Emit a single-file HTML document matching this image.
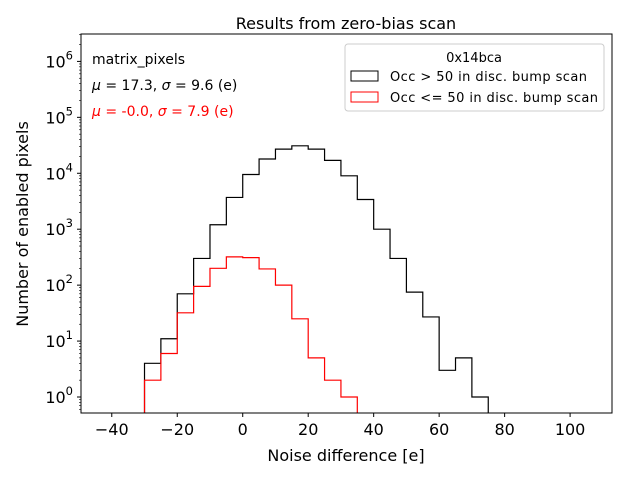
<!DOCTYPE html>
<html><head><meta charset="utf-8"><style>
body{margin:0;background:#fff}
svg{font-family:"DejaVu Sans","Liberation Sans",sans-serif}
</style></head><body>
<svg id="c" width="640" height="480" viewBox="0 0 640 480">
<rect width="640" height="480" fill="#fff"/>
<text x="346" y="29" font-size="16" text-anchor="middle">Results from zero-bias scan</text>
<g id="plot"></g>
<text x="346" y="461" font-size="16" text-anchor="middle">Noise difference [e]</text>
<text transform="translate(28,224) rotate(-90)" font-size="16" text-anchor="middle">Number of enabled pixels</text>
<text x="92" y="64" font-size="14">matrix_pixels</text>
<text x="92" y="90" font-size="14"><tspan font-style="italic">μ</tspan> = 17.3, <tspan font-style="italic">σ</tspan> = 9.6 (e)</text>
<text x="92" y="116" font-size="14" fill="#ff0000"><tspan font-style="italic">μ</tspan> = -0.0, <tspan font-style="italic">σ</tspan> = 7.9 (e)</text>
<g>
<rect x="345" y="44" width="259" height="67" rx="3" fill="#fff" fill-opacity="0.8" stroke="#ccc"/>
<text x="474" y="62" font-size="13" text-anchor="middle">0x14bca</text>
<rect x="351" y="71" width="27" height="10" fill="none" stroke="#000"/>
<text x="390" y="81" font-size="13" textLength="197">Occ &gt; 50 in disc. bump scan</text>
<rect x="351" y="92" width="27" height="10" fill="none" stroke="#ff0000"/>
<text x="390" y="102" font-size="13" textLength="208">Occ &lt;= 50 in disc. bump scan</text>
</g>
</svg>
<script>
const binStart=-30, binWidth=5;
const blackCounts=[4,11,70,300,1200,3700,9500,18000,27000,31000,27000,17000,9000,3400,1000,300,75,27,3,5,1];
const redCounts=[2,6,32,95,200,320,310,195,100,25,5,2,1];
const xTicks=[-40,-20,0,20,40,60,80,100];
const yTicks=[0,1,2,3,4,5,6];
const L=81,R=612,T=34,B=413;
const xmin=-49.4,xmax=112.8,lmin=-0.286,lmax=6.49;
const X=v=>L+(v-xmin)/(xmax-xmin)*(R-L);
const Y=v=>B-(Math.log10(v)-lmin)/(lmax-lmin)*(B-T);
const NS="http://www.w3.org/2000/svg";
const g=document.getElementById('plot');
function mk(t,a){const e=document.createElementNS(NS,t);for(const k in a)e.setAttribute(k,a[k]);g.appendChild(e);return e;}
function step(counts,color,name){
 let d="M"+X(binStart)+","+B;
 counts.forEach((c,i)=>{const x0=X(binStart+i*binWidth),x1=X(binStart+(i+1)*binWidth),y=Y(c);d+=" L"+x0+","+y+" L"+x1+","+y;});
 d+=" L"+X(binStart+counts.length*binWidth)+","+B;
 const p=mk('path',{d:d,fill:'none',stroke:color,'stroke-width':1.2});
 
 
}
step(blackCounts,'#000','histogram-black');
step(redCounts,'#ff0000','histogram-red');
xTicks.forEach(v=>{const x=X(v);mk('line',{x1:x,x2:x,y1:B,y2:B+4,stroke:'#000'});
 const t=mk('text',{x:x,y:B+22,'font-size':16,'text-anchor':'middle'});t.textContent=(v<0?'\u2212'+(-v):v);
 
 });
yTicks.forEach(p=>{const y=Y(Math.pow(10,p));mk('line',{x1:L-4,x2:L,y1:y,y2:y,stroke:'#000'});
 const t=mk('text',{x:L-8,y:y+6,'font-size':16,'text-anchor':'end'});t.innerHTML='10<tspan dy="-8" font-size="11.5">'+p+'</tspan>';
 
 
 for(let m=2;m<10;m++){const v=Math.pow(10,p)*m;if(Math.log10(v)<lmax){const ym=Y(v);mk('line',{x1:L-2,x2:L,y1:ym,y2:ym,stroke:'#000','stroke-width':0.6});}}
});
[0.6,0.7,0.8,0.9].forEach(v=>{const ym=Y(v);mk('line',{x1:L-2,x2:L,y1:ym,y2:ym,stroke:'#000','stroke-width':0.6});});
const fr=mk('rect',{x:L,y:T,width:R-L,height:B-T,fill:'none',stroke:'#000','stroke-width':1});


</script>
</body></html>
